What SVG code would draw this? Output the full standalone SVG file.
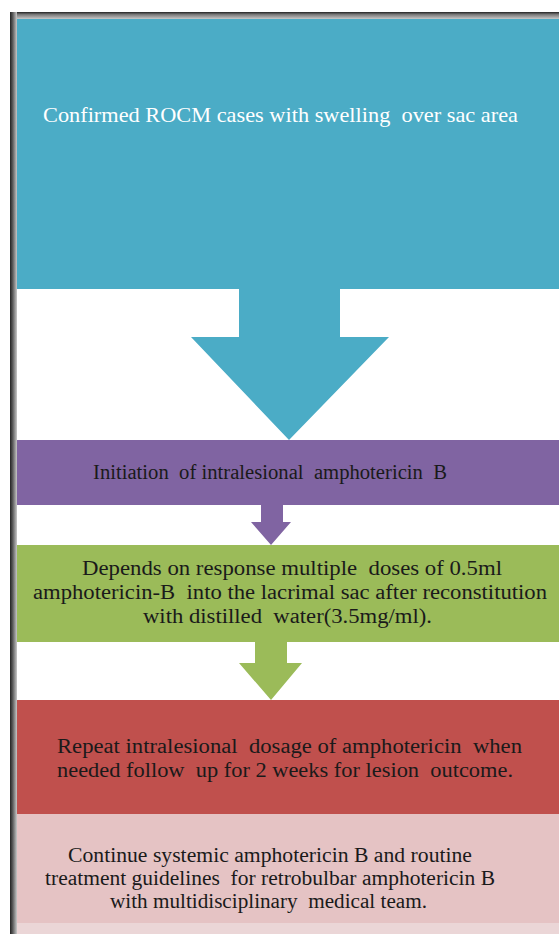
<svg xmlns="http://www.w3.org/2000/svg" width="559" height="934" viewBox="0 0 559 934">
<defs>
<linearGradient id="lb" x1="0" y1="0" x2="1" y2="0">
<stop offset="0" stop-color="#222"/>
<stop offset="0.35" stop-color="#555"/>
<stop offset="1" stop-color="#c8c8c8"/>
</linearGradient>
<linearGradient id="tb" x1="0" y1="0" x2="0" y2="1">
<stop offset="0" stop-color="#222"/>
<stop offset="0.35" stop-color="#777"/>
<stop offset="1" stop-color="#c8c8c8"/>
</linearGradient>
</defs>
<rect x="0" y="0" width="559" height="934" fill="#ffffff"/>
<g id="frame">
<rect x="10" y="12" width="549" height="7" fill="url(#tb)"/>
<rect x="10" y="12" width="7" height="922" fill="url(#lb)"/>
</g>
<g id="n1">
<rect x="17" y="19" width="542" height="270" fill="#4BACC6"/>
<text x="280.5" y="122" font-family="Liberation Serif, serif" font-size="22" fill="#ffffff" text-anchor="middle" xml:space="preserve" textLength="475" lengthAdjust="spacingAndGlyphs">Confirmed ROCM cases with swelling  over sac area</text>
</g>
<g id="n2">
<rect x="17" y="440" width="542" height="65" fill="#8064A2"/>
<text x="270" y="479" font-family="Liberation Serif, serif" font-size="20.5" fill="#1a1a1a" text-anchor="middle" xml:space="preserve" textLength="354" lengthAdjust="spacingAndGlyphs">Initiation  of intralesional  amphotericin  B</text>
</g>
<g id="n3">
<rect x="17" y="545" width="542" height="97" fill="#9BBB59"/>
<text x="292" y="575" font-family="Liberation Serif, serif" font-size="20.5" fill="#1a1a1a" text-anchor="middle" xml:space="preserve" textLength="420" lengthAdjust="spacingAndGlyphs">Depends on response multiple  doses of 0.5ml</text>
<text x="290" y="599" font-family="Liberation Serif, serif" font-size="20.5" fill="#1a1a1a" text-anchor="middle" xml:space="preserve" textLength="514" lengthAdjust="spacingAndGlyphs">amphotericin-B  into the lacrimal sac after reconstitution</text>
<text x="287.5" y="623" font-family="Liberation Serif, serif" font-size="20.5" fill="#1a1a1a" text-anchor="middle" xml:space="preserve" textLength="289" lengthAdjust="spacingAndGlyphs">with distilled  water(3.5mg/ml).</text>
</g>
<g id="n4">
<rect x="17" y="700" width="542" height="114" fill="#C0504D"/>
<text x="289.5" y="753" font-family="Liberation Serif, serif" font-size="20.5" fill="#1a1a1a" text-anchor="middle" xml:space="preserve" textLength="465" lengthAdjust="spacingAndGlyphs">Repeat intralesional  dosage of amphotericin  when</text>
<text x="285" y="777" font-family="Liberation Serif, serif" font-size="20.5" fill="#1a1a1a" text-anchor="middle" xml:space="preserve" textLength="456" lengthAdjust="spacingAndGlyphs">needed follow  up for 2 weeks for lesion  outcome.</text>
</g>
<g id="n5">
<rect x="17" y="814" width="542" height="109" fill="#E5C3C4"/>
<rect x="17" y="923" width="542" height="11" fill="#EBD6D7"/>
<text x="270" y="862" font-family="Liberation Serif, serif" font-size="20.5" fill="#1a1a1a" text-anchor="middle" xml:space="preserve" textLength="404" lengthAdjust="spacingAndGlyphs">Continue systemic amphotericin B and routine</text>
<text x="270" y="885" font-family="Liberation Serif, serif" font-size="20.5" fill="#1a1a1a" text-anchor="middle" xml:space="preserve" textLength="450" lengthAdjust="spacingAndGlyphs">treatment guidelines  for retrobulbar amphotericin B</text>
<text x="268.5" y="908" font-family="Liberation Serif, serif" font-size="20.5" fill="#1a1a1a" text-anchor="middle" xml:space="preserve" textLength="317" lengthAdjust="spacingAndGlyphs">with multidisciplinary  medical team.</text>
</g>
<g id="connectors">
<polygon points="239,289 340,289 340,337 389,337 289,440 191,337 239,337" fill="#4BACC6"/>
<polygon points="261,505 283,505 283,522 291,522 271,545 251,522 261,522" fill="#8064A2"/>
<polygon points="255,642 287,642 287,663 302,663 271,700 239,663 255,663" fill="#9BBB59"/>
</g>
</svg>
